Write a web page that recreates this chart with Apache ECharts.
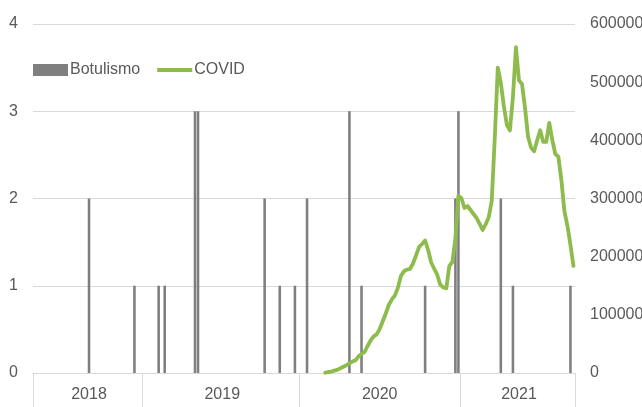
<!DOCTYPE html>
<html>
<head>
<meta charset="utf-8">
<script src="https://cdn.jsdelivr.net/npm/echarts@6/dist/echarts.min.js"></script>
<style>
  html, body { margin: 0; padding: 0; background: #fff; }
  #chart { width: 642px; height: 407px; }
</style>
</head>
<body>
<div id="chart"></div>
<script>
// Epidemiological weeks covered by the chart, per year
const years = [2018, 2019, 2020, 2021];
const yearFirstWeek = [17, 1, 1, 1];
const yearLastWeek = [52, 52, 53, 38];

// Botulism: weeks with confirmed cases and the number of cases
const botulismoWeeks = ['2018-35', '2018-50', '2019-06', '2019-08', '2019-18', '2019-19',
  '2019-41', '2019-46', '2019-51', '2020-03', '2020-17', '2020-21', '2020-42', '2020-52',
  '2020-53', '2021-14', '2021-18', '2021-37'];
const botulismoCases = [2, 1, 1, 1, 3, 3, 2, 1, 1, 2, 3, 1, 1, 2, 3, 2, 1, 1];

// COVID: weekly new cases from the first reported week onwards
const covidFirstWeek = '2020-09';
const covidCases = [
  500, 1500, 2500, 4000, 5500, 8300, 10800, 13400, 16300, 19800,
  21800, 28700, 32700, 36100, 46400, 55900, 62900, 66500, 75600, 88900,
  102300, 116900, 126700, 133100, 146300, 166600, 175000, 177800, 178800, 188300,
  202000, 216600, 221800, 227800, 211500, 190000, 179300, 169000, 151800, 147300,
  145600, 184000, 190800, 231800, 305000, 300400, 283700, 287100, 280200, 273400,
  266500, 256200, 245900, 255700, 267700, 295700, 403500, 525000, 498600, 459000,
  426400, 417000, 474500, 560000, 503000, 497000, 455600, 406100, 387200, 381300,
  400100, 417300, 397200, 397200, 430000, 400600, 376500, 371900, 331800, 278500,
  253100, 220000, 184000
];

// Axis ticks
const leftTicks = { min: 0, max: 4, interval: 1 };
const rightTicks = { min: 0, max: 600000, interval: 100000 };

// Build the weekly category list and year bands
const weeks = [];
const yearStart = [];
const yearEnd = [];
years.forEach((y, k) => {
  yearStart.push(weeks.length);
  for (let w = yearFirstWeek[k]; w <= yearLastWeek[k]; w++) {
    weeks.push(y + '-' + String(w).padStart(2, '0'));
  }
  yearEnd.push(weeks.length - 1);
});
const yearLabelIndex = yearStart.map((s, k) => Math.ceil((s + yearEnd[k]) / 2));

const botData = weeks.map(() => null);
botulismoWeeks.forEach((w, k) => { botData[weeks.indexOf(w)] = botulismoCases[k]; });

const covidData = weeks.map(() => null);
const c0 = weeks.indexOf(covidFirstWeek);
covidCases.forEach((v, k) => { covidData[c0 + k] = v; });

const textColor = '#595959';
const font = '"Liberation Sans", Arial, sans-serif';
const fontSize = 16;
const lineColor = '#8dbb4c';

const chart = echarts.init(document.getElementById('chart'));
chart.setOption({
  animation: false,
  grid: { left: 33, right: 67, top: 24, bottom: 34, outerBoundsMode: 'none', containLabel: false },
  legend: {
    left: 33, top: 62, padding: 0,
    itemWidth: 35, itemHeight: 12, itemGap: 17,
    textStyle: { color: textColor, fontSize: fontSize, fontFamily: font, padding: [0, 0, 0, -3] },
    data: [
      { name: 'Botulismo', icon: 'rect' },
      // thin horizontal stroke centred in the 12px-high legend box
      { name: 'COVID', icon: 'path://M0,0L0,0M0,12L0,12M0,4L35,4L35,8L0,8Z', itemStyle: { color: lineColor } }
    ]
  },
  xAxis: {
    type: 'category',
    data: weeks,
    axisLine: { show: true, lineStyle: { color: '#d9d9d9' } },
    axisTick: {
      show: true,
      length: 34,
      lineStyle: { color: '#d9d9d9' },
      interval: (i) => yearStart.indexOf(i) >= 0
    },
    axisLabel: {
      interval: (i) => yearLabelIndex.indexOf(i) >= 0,
      formatter: (v) => v.slice(0, 4),
      color: textColor, fontSize: fontSize, fontFamily: font, margin: 14
    }
  },
  yAxis: [{
    type: 'value',
    min: leftTicks.min, max: leftTicks.max, interval: leftTicks.interval,
    axisLabel: { color: textColor, fontSize: fontSize, fontFamily: font, margin: 15 },
    axisLine: { show: false }, axisTick: { show: false },
    splitLine: { show: true, lineStyle: { color: '#d9d9d9' } }
  }, {
    type: 'value',
    min: rightTicks.min, max: rightTicks.max, interval: rightTicks.interval,
    position: 'right',
    axisLabel: { color: textColor, fontSize: fontSize, fontFamily: font, margin: 15, formatter: (v) => String(v) },
    axisLine: { show: false }, axisTick: { show: false },
    splitLine: { show: false }
  }],
  series: [{
    name: 'Botulismo',
    type: 'bar',
    data: botData,
    barWidth: '85%',
    itemStyle: { color: '#7f7f7f' }
  }, {
    name: 'COVID',
    type: 'line',
    yAxisIndex: 1,
    data: covidData,
    symbol: 'none',
    connectNulls: false,
    z: 3,
    lineStyle: { color: lineColor, width: 3.8, join: 'round', cap: 'round' },
    itemStyle: { color: lineColor }
  }]
});
</script>
</body>
</html>
